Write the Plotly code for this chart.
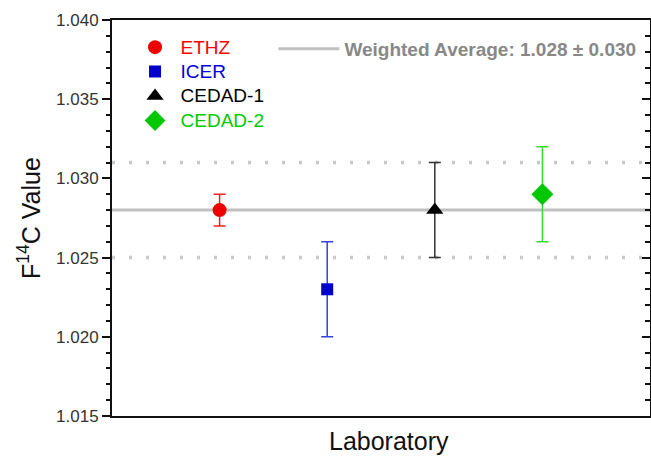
import plotly.graph_objects as go

labs = ["ETHZ", "ICER", "CEDAD-1", "CEDAD-2"]
xpos = [1, 2, 3, 4]
vals = [1.028, 1.023, 1.028, 1.029]
errs = [0.001, 0.003, 0.003, 0.003]
mcolors = ["#ee0000", "#0000c8", "#000000", "#00c800"]
ecolors = ["#ee2222", "#3344dd", "#333333", "#33dd33"]
tcolors = ["#ff0000", "#0000dd", "#000000", "#00cc00"]
symbols = ["circle", "square", "triangle-up", "diamond"]
msizes = [14, 12, 15, 17]
wavg = 1.028
band = [1.025, 1.031]
wlabel = "Weighted Average: 1.028 \u00b1 0.030"
yticks = [1.015, 1.020, 1.025, 1.030, 1.035, 1.040]

FONT = "Liberation Sans, Arial, sans-serif"
fig = go.Figure()

# dotted band lines
for b in band:
    fig.add_trace(go.Scatter(x=[0, 5], y=[b, b], mode="lines", showlegend=False,
                             line=dict(color="#c8c8c8", width=3.5, dash="3px,14px"),
                             hoverinfo="skip"))
# weighted average line
fig.add_trace(go.Scatter(x=[0, 5], y=[wavg, wavg], mode="lines", name=wlabel,
                         line=dict(color="#c0c0c0", width=3), legend="legend2"))

for i in range(4):
    fig.add_trace(go.Scatter(
        x=[xpos[i]], y=[vals[i]], mode="markers",
        name=f"<span style='color:{tcolors[i]};font-size:19px'>{labs[i]}</span>",
        marker=dict(symbol=symbols[i], size=msizes[i], color=mcolors[i], line=dict(width=0)),
        error_y=dict(type="data", array=[errs[i]], color=ecolors[i], thickness=1.5, width=6),
    ))

# secondary axis for right-side inward ticks
fig.add_trace(go.Scatter(x=[None], y=[None], yaxis="y2", showlegend=False))

fig.update_layout(
    width=651, height=456,
    margin=dict(l=112, r=1, t=20, b=40),
    paper_bgcolor="white", plot_bgcolor="white",
    font=dict(family=FONT, color="#222222"),
    xaxis=dict(range=[0, 5], showticklabels=False, ticks="", showgrid=False, zeroline=False,
               showline=True, linecolor="#111111", linewidth=2, mirror=True),
    yaxis=dict(range=[1.015, 1.040], tickvals=yticks, tickformat=".3f", showgrid=False,
               zeroline=False, showline=True, linecolor="#111111", linewidth=2,
               ticks="outside", ticklen=8, tickwidth=2, tickcolor="#111111",
               tickfont=dict(size=17, color="#333333"),
               minor=dict(dtick=0.001, ticks="outside", ticklen=4, tickwidth=1.5, tickcolor="#111111")),
    yaxis2=dict(range=[1.015, 1.040], overlaying="y", side="right", tickvals=yticks,
                showticklabels=False, showgrid=False, zeroline=False, showline=True,
                linecolor="#111111", linewidth=2,
                ticks="inside", ticklen=8, tickwidth=2, tickcolor="#111111",
                minor=dict(dtick=0.001, ticks="inside", ticklen=5, tickwidth=1.5, tickcolor="#111111")),
    legend=dict(x=0.0326, y=0.975, xanchor="left", yanchor="top", bgcolor="rgba(0,0,0,0)",
                font=dict(size=16.5, family=FONT), tracegroupgap=0, itemwidth=41),
    legend2=dict(x=0.30, y=0.975, xanchor="left", yanchor="top", bgcolor="rgba(0,0,0,0)",
                 itemwidth=61,
                 font=dict(size=19, family=FONT, color="#888888", weight="bold")),
    annotations=[
        dict(text="F<sup>14</sup>C Value", textangle=-90, xref="paper", yref="paper",
             x=-(112 - 29) / 538, y=0.5, xanchor="center", yanchor="middle",
             showarrow=False, font=dict(size=25, color="#111111", family=FONT)),
        dict(text="Laboratory", xref="paper", yref="paper",
             x=(389 - 112) / 538, y=-(441 - 416) / 396, xanchor="center", yanchor="middle",
             showarrow=False, font=dict(size=25, color="#111111", family=FONT)),
    ],
)

fig.write_html("out.html")
